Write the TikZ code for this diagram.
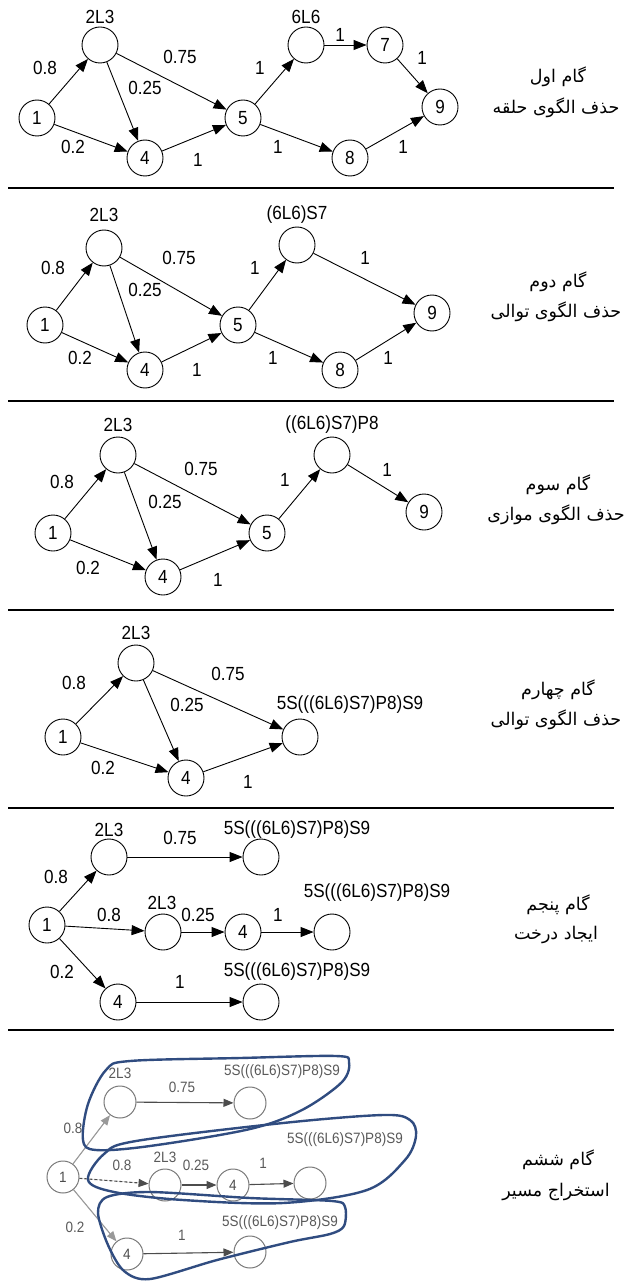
\documentclass[tikz,border=0pt]{standalone}
\usepackage{fontspec}
\usetikzlibrary{arrows.meta}
\TeXXeTstate=1
\newfontfamily\lsans[FakeStretch=0.9]{Liberation Sans}
\newfontfamily\fa[Script=Arabic]{DejaVu Sans}
\newcommand\lbfont{\lsans\fontsize{19}{21}\selectfont}
\newcommand\smfont{\lsans\fontsize{15}{17}\selectfont}
\newcommand\fafont{\fa\fontsize{17.5}{20}\selectfont}
\definecolor{loopblue}{RGB}{48,76,128}
\definecolor{fadegray}{RGB}{120,120,120}
\tikzset{
  nd/.style={circle,draw,minimum size=36pt,inner sep=0pt,line width=0.9pt,font=\lbfont},
  lb/.style={inner sep=0pt,font=\lbfont},
  ar/.style={-{Triangle[length=13pt,width=10pt]},line width=0.9pt},
  sepline/.style={line width=2.6pt},
  steptext/.style={inner sep=0pt,font=\fafont,align=center},
  gnd/.style={circle,draw=fadegray,minimum size=32pt,inner sep=0pt,line width=1pt,font=\smfont,text=black!70},
  glb/.style={inner sep=0pt,font=\smfont,text=black!65},
  gar/.style={-{Triangle[length=10pt,width=8pt]},line width=1.1pt,draw=black!70,fill=black!70},
  loopline/.style={draw=loopblue,line width=2.4pt,line join=round},
}
\begin{document}
\begin{tikzpicture}[x=1pt,y=-1pt]
\useasboundingbox (0,0) rectangle (624,1281);

% ---------- separators ----------
\foreach \yy/\nm in {188/s1,401/s2,610/s3,808/s4,1030/s5}{
  \coordinate (\nm L) at (8,\yy);
  \coordinate (\nm R) at (614,\yy);
  \draw[sepline] (\nm L) -- (\nm R);
}

% ---------- step 1 ----------
\node[nd] (a1) at (37,118) {1};
\node[nd] (b1) at (100,45) {};
\node[lb] (b1t) at (100,17) {2L3};
\node[nd] (d1) at (145,158) {4};
\node[nd] (e1) at (243,118) {5};
\node[nd] (f1) at (306,45) {};
\node[lb] (f1t) at (306,17) {6L6};
\node[nd] (g1) at (385,45) {7};
\node[nd] (i1) at (440,107) {9};
\node[nd] (h1) at (350,158) {8};
\draw[ar] (a1) -- (b1);
\draw[ar] (a1) -- (d1);
\draw[ar] (b1) -- (d1);
\draw[ar] (b1) -- (e1);
\draw[ar] (d1) -- (e1);
\draw[ar] (e1) -- (f1);
\draw[ar] (f1) -- (g1);
\draw[ar] (g1) -- (i1);
\draw[ar] (e1) -- (h1);
\draw[ar] (h1) -- (i1);
\node[lb] (w1a) at (45,68) {0.8};
\node[lb] (w1b) at (180,57) {0.75};
\node[lb] (w1c) at (145,88) {0.25};
\node[lb] (w1d) at (73,147) {0.2};
\node[lb] (w1e) at (198,160) {1};
\node[lb] (w1f) at (260,68) {1};
\node[lb] (w1g) at (340,35) {1};
\node[lb] (w1h) at (422,58) {1};
\node[lb] (w1i) at (278,147) {1};
\node[lb] (w1j) at (403,147) {1};
\node[steptext] (t1a) at (558,77) {\beginR گام اول\endR};
\node[steptext] (t1b) at (556,108) {\beginR حذف الگوی حلقه\endR};

% ---------- step 2 ----------
\node[nd] (a2) at (45,325) {1};
\node[nd] (b2) at (104,248) {};
\node[lb] (b2t) at (104,215) {2L3};
\node[nd] (d2) at (145,370) {4};
\node[nd] (e2) at (238,325) {5};
\node[nd] (f2) at (297,245) {};
\node[lb] (f2t) at (297,215) {(6L6)S7};
\node[nd] (i2) at (432,313) {9};
\node[nd] (h2) at (340,370) {8};
\draw[ar] (a2) -- (b2);
\draw[ar] (a2) -- (d2);
\draw[ar] (b2) -- (d2);
\draw[ar] (b2) -- (e2);
\draw[ar] (d2) -- (e2);
\draw[ar] (e2) -- (f2);
\draw[ar] (f2) -- (i2);
\draw[ar] (e2) -- (h2);
\draw[ar] (h2) -- (i2);
\node[lb] (w2a) at (53,268) {0.8};
\node[lb] (w2b) at (179,258) {0.75};
\node[lb] (w2c) at (145,290) {0.25};
\node[lb] (w2d) at (80,358) {0.2};
\node[lb] (w2e) at (197,370) {1};
\node[lb] (w2f) at (255,268) {1};
\node[lb] (w2g) at (365,258) {1};
\node[lb] (w2h) at (273,358) {1};
\node[lb] (w2i) at (388,358) {1};
\node[steptext] (t2a) at (558,282) {\beginR گام دوم\endR};
\node[steptext] (t2b) at (556,312) {\beginR حذف الگوی توالی\endR};

% ---------- step 3 ----------
\node[nd] (a3) at (53,533) {1};
\node[nd] (b3) at (118,455) {};
\node[lb] (b3t) at (118,425) {2L3};
\node[nd] (d3) at (163,577) {4};
\node[nd] (e3) at (267,533) {5};
\node[nd] (f3) at (332,455) {};
\node[lb] (f3t) at (332,425) {((6L6)S7)P8};
\node[nd] (i3) at (424,512) {9};
\draw[ar] (a3) -- (b3);
\draw[ar] (a3) -- (d3);
\draw[ar] (b3) -- (d3);
\draw[ar] (b3) -- (e3);
\draw[ar] (d3) -- (e3);
\draw[ar] (e3) -- (f3);
\draw[ar] (f3) -- (i3);
\node[lb] (w3a) at (62,482) {0.8};
\node[lb] (w3b) at (201,469) {0.75};
\node[lb] (w3c) at (165,502) {0.25};
\node[lb] (w3d) at (88,568) {0.2};
\node[lb] (w3e) at (218,580) {1};
\node[lb] (w3f) at (285,480) {1};
\node[lb] (w3g) at (387,470) {1};
\node[steptext] (t3a) at (558,485) {\beginR گام سوم\endR};
\node[steptext] (t3b) at (556,515) {\beginR حذف الگوی موازی\endR};

% ---------- step 4 ----------
\node[nd] (a4) at (63,737) {1};
\node[nd] (b4) at (136,663) {};
\node[lb] (b4t) at (136,633) {2L3};
\node[nd] (d4) at (186,778) {4};
\node[nd] (e4) at (300,737) {};
\node[lb] (e4t) at (350,705) {5S(((6L6)S7)P8)S9};
\draw[ar] (a4) -- (b4);
\draw[ar] (a4) -- (d4);
\draw[ar] (b4) -- (d4);
\draw[ar] (b4) -- (e4);
\draw[ar] (d4) -- (e4);
\node[lb] (w4a) at (74,683) {0.8};
\node[lb] (w4b) at (228,674) {0.75};
\node[lb] (w4c) at (187,705) {0.25};
\node[lb] (w4d) at (103,768) {0.2};
\node[lb] (w4e) at (248,782) {1};
\node[steptext] (t4a) at (558,690) {\beginR گام چهارم\endR};
\node[steptext] (t4b) at (556,720) {\beginR حذف الگوی توالی\endR};

% ---------- step 5 ----------
\node[nd] (a5) at (47,925) {1};
\node[nd] (b5) at (109,857) {};
\node[lb] (b5t) at (109,830) {2L3};
\node[nd] (c5) at (261,857) {};
\node[lb] (c5t) at (297,830) {5S(((6L6)S7)P8)S9};
\node[nd] (m5) at (163,932) {};
\node[lb] (m5t) at (162,903) {2L3};
\node[nd] (n5) at (243,932) {4};
\node[nd] (o5) at (332,932) {};
\node[lb] (o5t) at (377,893) {5S(((6L6)S7)P8)S9};
\node[nd] (q5) at (118,1002) {4};
\node[nd] (r5) at (261,1002) {};
\node[lb] (r5t) at (297,972) {5S(((6L6)S7)P8)S9};
\draw[ar] (a5) -- (b5);
\draw[ar] (b5) -- (c5);
\draw[ar] (a5) -- (m5);
\draw[ar] (m5) -- (n5);
\draw[ar] (n5) -- (o5);
\draw[ar] (a5) -- (q5);
\draw[ar] (q5) -- (r5);
\node[lb] (w5a) at (56,877) {0.8};
\node[lb] (w5b) at (180,838) {0.75};
\node[lb] (w5c) at (109,915) {0.8};
\node[lb] (w5d) at (198,915) {0.25};
\node[lb] (w5e) at (278,915) {1};
\node[lb] (w5f) at (62,972) {0.2};
\node[lb] (w5g) at (180,982) {1};
\node[steptext] (t5a) at (558,905) {\beginR گام پنجم\endR};
\node[steptext] (t5b) at (556,935) {\beginR ایجاد درخت\endR};

% ---------- step 6 ----------
\node[gnd] (a6) at (63,1177) {1};
\node[gnd] (b6) at (120,1102) {};
\node[glb] (b6t) at (120,1073) {2L3};
\node[gnd] (c6) at (250,1103) {};
\node[glb] (c6t) at (282,1072) {5S(((6L6)S7)P8)S9};
\node[gnd] (m6) at (165,1185) {};
\node[glb] (m6t) at (165,1157) {2L3};
\node[gnd] (n6) at (233,1185) {4};
\node[gnd] (o6) at (310,1183) {};
\node[glb] (o6t) at (345,1140) {5S(((6L6)S7)P8)S9};
\node[gnd] (q6) at (127,1254) {4};
\node[gnd] (r6) at (250,1252) {};
\node[glb] (r6t) at (280,1223) {5S(((6L6)S7)P8)S9};
\draw[gar,draw=black!40] (a6) -- (b6);
\draw[gar] (b6) -- (c6);
\draw[gar,densely dashed] (a6) -- (m6);
\draw[gar] (m6) -- (n6);
\draw[gar] (n6) -- (o6);
\draw[gar,draw=black!40] (a6) -- (q6);
\draw[gar] (q6) -- (r6);
\node[glb] (w6a) at (73,1128) {0.8};
\node[glb] (w6b) at (182,1087) {0.75};
\node[glb] (w6c) at (122,1165) {0.8};
\node[glb] (w6d) at (196,1165) {0.25};
\node[glb] (w6e) at (263,1163) {1};
\node[glb] (w6f) at (75,1227) {0.2};
\node[glb] (w6g) at (182,1235) {1};
% hand-drawn outlines around the three extracted paths
\draw[loopline] plot[smooth cycle,tension=0.55] coordinates {
  (83,1140) (88,1104) (106,1070) (130,1061) (240,1058) (336,1056)
  (349,1062) (342,1082) (302,1110) (250,1129) (150,1146) (96,1150)};
\draw[loopline] plot[smooth cycle,tension=0.55] coordinates {
  (88,1180) (104,1154) (136,1141) (283,1123) (383,1115) (410,1120)
  (416,1136) (405,1160) (367,1190) (283,1203) (183,1200) (114,1192)};
\draw[loopline] plot[smooth cycle,tension=0.5] coordinates {
  (107,1197) (150,1192) (250,1198) (332,1201) (345,1207) (344,1226)
  (330,1234) (290,1242) (217,1260) (150,1279) (124,1271) (108,1245) (98,1213)};
\node[steptext] (t6a) at (558,1160) {\beginR گام ششم\endR};
\node[steptext] (t6b) at (556,1192) {\beginR استخراج مسیر\endR};
\end{tikzpicture}
\end{document}
